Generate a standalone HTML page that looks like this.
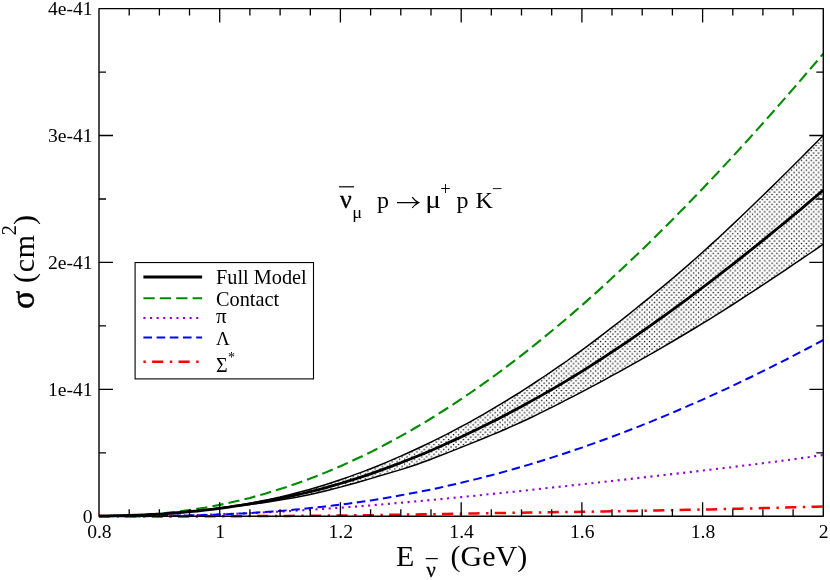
<!DOCTYPE html>
<html><head><meta charset="utf-8"><title>chart</title>
<style>html,body{margin:0;padding:0;background:#fff}svg{display:block}text{font-family:"Liberation Serif",serif;fill:#000;filter:grayscale(1)}</style>
</head><body>
<svg width="830" height="580" viewBox="0 0 830 580">
<defs><pattern id="dots" x="-0.75" y="0" width="4.9" height="4.9" patternUnits="userSpaceOnUse"><rect x="0.4" y="0.4" width="1.3" height="1.3" fill="#000"/><rect x="2.85" y="2.85" width="1.3" height="1.3" fill="#000"/></pattern></defs>
<rect width="830" height="580" fill="#fff"/>
<path d="M99.0,516.3 L106.5,516.3 L114.1,516.2 L121.6,516.0 L129.2,515.7 L136.7,515.3 L144.3,514.9 L151.8,514.3 L159.4,513.6 L166.9,512.9 L174.4,512.1 L182.0,511.1 L189.5,510.1 L197.1,508.9 L204.6,507.7 L212.2,506.3 L219.7,504.9 L227.3,503.3 L234.8,501.6 L242.4,499.8 L249.9,497.9 L257.4,495.8 L265.0,493.7 L272.5,491.4 L280.1,489.0 L287.6,486.6 L295.2,484.0 L302.7,481.3 L310.3,478.5 L317.8,475.6 L325.3,472.6 L332.9,469.4 L340.4,466.2 L348.0,462.8 L355.5,459.3 L363.1,455.8 L370.6,452.1 L378.2,448.3 L385.7,444.3 L393.2,440.3 L400.8,436.2 L408.3,431.9 L415.9,427.5 L423.4,423.1 L431.0,418.5 L438.5,413.8 L446.1,409.0 L453.6,404.1 L461.1,399.1 L468.7,394.0 L476.2,388.8 L483.8,383.4 L491.3,378.0 L498.9,372.5 L506.4,366.9 L514.0,361.1 L521.5,355.3 L529.1,349.4 L536.6,343.4 L544.1,337.3 L551.7,331.0 L559.2,324.7 L566.8,318.4 L574.3,311.9 L581.9,305.3 L589.4,298.6 L597.0,291.9 L604.5,285.0 L612.0,278.1 L619.6,271.1 L627.1,264.0 L634.7,256.8 L642.2,249.6 L649.8,242.2 L657.3,234.8 L664.9,227.3 L672.4,219.7 L679.9,212.1 L687.5,204.3 L695.0,196.5 L702.6,188.7 L710.1,180.7 L717.7,172.7 L725.2,164.6 L732.8,156.5 L740.3,148.2 L747.9,140.0 L755.4,131.6 L762.9,123.2 L770.5,114.7 L778.0,106.1 L785.6,97.5 L793.1,88.9 L800.7,80.1 L808.2,71.3 L815.8,62.5 L823.3,53.6" fill="none" stroke="#008b00" stroke-width="2.1" stroke-dasharray="11.3 5.1" stroke-dashoffset="0.8"/>
<path d="M99.0,516.3 L106.5,516.3 L114.1,516.3 L121.6,516.2 L129.2,516.2 L136.7,516.1 L144.3,516.1 L151.8,516.0 L159.4,515.9 L166.9,515.7 L174.4,515.6 L182.0,515.4 L189.5,515.2 L197.1,515.0 L204.6,514.8 L212.2,514.6 L219.7,514.3 L227.3,514.0 L234.8,513.8 L242.4,513.4 L249.9,513.1 L257.4,512.8 L265.0,512.4 L272.5,512.0 L280.1,511.6 L287.6,511.2 L295.2,510.7 L302.7,510.3 L310.3,509.8 L317.8,509.3 L325.3,508.8 L332.9,508.2 L340.4,507.7 L348.0,507.1 L355.5,506.6 L363.1,506.0 L370.6,505.4 L378.2,504.7 L385.7,504.1 L393.2,503.4 L400.8,502.8 L408.3,502.1 L415.9,501.4 L423.4,500.7 L431.0,500.0 L438.5,499.3 L446.1,498.6 L453.6,497.8 L461.1,497.1 L468.7,496.3 L476.2,495.6 L483.8,494.8 L491.3,494.0 L498.9,493.3 L506.4,492.5 L514.0,491.7 L521.5,490.9 L529.1,490.1 L536.6,489.3 L544.1,488.4 L551.7,487.6 L559.2,486.8 L566.8,486.0 L574.3,485.1 L581.9,484.3 L589.4,483.5 L597.0,482.6 L604.5,481.8 L612.0,481.0 L619.6,480.1 L627.1,479.3 L634.7,478.4 L642.2,477.6 L649.8,476.7 L657.3,475.8 L664.9,475.0 L672.4,474.1 L679.9,473.2 L687.5,472.4 L695.0,471.5 L702.6,470.6 L710.1,469.7 L717.7,468.8 L725.2,467.9 L732.8,467.0 L740.3,466.0 L747.9,465.1 L755.4,464.2 L762.9,463.2 L770.5,462.3 L778.0,461.3 L785.6,460.3 L793.1,459.3 L800.7,458.2 L808.2,457.2 L815.8,456.1 L823.3,455.0" fill="none" stroke="#9400d3" stroke-width="2.1" stroke-dasharray="2.1 4.5" stroke-dashoffset="1.2"/>
<path d="M99.0,516.3 L106.5,516.3 L114.1,516.3 L121.6,516.3 L129.2,516.3 L136.7,516.2 L144.3,516.2 L151.8,516.1 L159.4,516.0 L166.9,515.9 L174.4,515.8 L182.0,515.6 L189.5,515.5 L197.1,515.3 L204.6,515.0 L212.2,514.8 L219.7,514.5 L227.3,514.2 L234.8,513.8 L242.4,513.4 L249.9,513.0 L257.4,512.5 L265.0,512.0 L272.5,511.5 L280.1,510.9 L287.6,510.3 L295.2,509.6 L302.7,508.9 L310.3,508.1 L317.8,507.3 L325.3,506.5 L332.9,505.6 L340.4,504.7 L348.0,503.7 L355.5,502.6 L363.1,501.5 L370.6,500.4 L378.2,499.2 L385.7,498.0 L393.2,496.7 L400.8,495.3 L408.3,493.9 L415.9,492.5 L423.4,491.0 L431.0,489.5 L438.5,487.9 L446.1,486.2 L453.6,484.5 L461.1,482.8 L468.7,480.9 L476.2,479.1 L483.8,477.2 L491.3,475.2 L498.9,473.2 L506.4,471.1 L514.0,469.0 L521.5,466.8 L529.1,464.6 L536.6,462.3 L544.1,460.0 L551.7,457.6 L559.2,455.2 L566.8,452.7 L574.3,450.1 L581.9,447.6 L589.4,444.9 L597.0,442.2 L604.5,439.5 L612.0,436.7 L619.6,433.9 L627.1,431.0 L634.7,428.1 L642.2,425.1 L649.8,422.1 L657.3,419.0 L664.9,415.9 L672.4,412.7 L679.9,409.5 L687.5,406.2 L695.0,402.9 L702.6,399.6 L710.1,396.2 L717.7,392.7 L725.2,389.3 L732.8,385.7 L740.3,382.1 L747.9,378.5 L755.4,374.9 L762.9,371.2 L770.5,367.4 L778.0,363.6 L785.6,359.8 L793.1,355.9 L800.7,352.0 L808.2,348.0 L815.8,344.0 L823.3,340.0" fill="none" stroke="#0000ff" stroke-width="2.0" stroke-dasharray="8.6 4.6" stroke-dashoffset="5.6"/>
<path d="M99.0,516.5 L106.5,516.5 L114.1,516.5 L121.6,516.5 L129.2,516.5 L136.7,516.5 L144.3,516.5 L151.8,516.5 L159.4,516.5 L166.9,516.5 L174.4,516.4 L182.0,516.4 L189.5,516.4 L197.1,516.4 L204.6,516.3 L212.2,516.3 L219.7,516.3 L227.3,516.2 L234.8,516.2 L242.4,516.2 L249.9,516.1 L257.4,516.1 L265.0,516.0 L272.5,516.0 L280.1,515.9 L287.6,515.9 L295.2,515.8 L302.7,515.8 L310.3,515.7 L317.8,515.7 L325.3,515.6 L332.9,515.5 L340.4,515.5 L348.0,515.4 L355.5,515.3 L363.1,515.2 L370.6,515.2 L378.2,515.1 L385.7,514.9 L393.2,514.8 L400.8,514.7 L408.3,514.6 L415.9,514.5 L423.4,514.3 L431.0,514.2 L438.5,514.1 L446.1,513.9 L453.6,513.8 L461.1,513.7 L468.7,513.5 L476.2,513.4 L483.8,513.3 L491.3,513.2 L498.9,513.0 L506.4,512.9 L514.0,512.8 L521.5,512.7 L529.1,512.6 L536.6,512.5 L544.1,512.4 L551.7,512.3 L559.2,512.1 L566.8,512.0 L574.3,511.9 L581.9,511.8 L589.4,511.7 L597.0,511.5 L604.5,511.4 L612.0,511.3 L619.6,511.2 L627.1,511.0 L634.7,510.9 L642.2,510.7 L649.8,510.6 L657.3,510.5 L664.9,510.3 L672.4,510.2 L679.9,510.0 L687.5,509.8 L695.0,509.7 L702.6,509.5 L710.1,509.4 L717.7,509.2 L725.2,509.0 L732.8,508.8 L740.3,508.7 L747.9,508.5 L755.4,508.3 L762.9,508.1 L770.5,507.9 L778.0,507.7 L785.6,507.5 L793.1,507.3 L800.7,507.1 L808.2,506.9 L815.8,506.7 L823.3,506.5" fill="none" stroke="#ff0000" stroke-width="2.5" stroke-dasharray="2.4 6.3 11.2 6.5" stroke-dashoffset="8.9"/>
<path d="M99.0,515.8 L106.5,515.8 L114.1,515.7 L121.6,515.6 L129.2,515.4 L136.7,515.1 L144.3,514.8 L151.8,514.5 L159.4,514.0 L166.9,513.5 L174.4,512.9 L182.0,512.3 L189.5,511.6 L197.1,510.8 L204.6,509.9 L212.2,509.0 L219.7,508.0 L227.3,506.9 L234.8,505.7 L242.4,504.5 L249.9,503.2 L257.4,501.8 L265.0,500.3 L272.5,498.7 L280.1,497.1 L287.6,495.2 L295.2,493.3 L302.7,491.3 L310.3,489.2 L317.8,487.0 L325.3,484.7 L332.9,482.3 L340.4,479.7 L348.0,477.1 L355.5,474.4 L363.1,471.6 L370.6,468.7 L378.2,465.7 L385.7,462.6 L393.2,459.4 L400.8,456.1 L408.3,452.8 L415.9,449.3 L423.4,445.7 L431.0,442.1 L438.5,438.4 L446.1,434.6 L453.6,430.7 L461.1,426.7 L468.7,422.6 L476.2,418.4 L483.8,414.1 L491.3,409.7 L498.9,405.2 L506.4,400.6 L514.0,396.0 L521.5,391.3 L529.1,386.4 L536.6,381.5 L544.1,376.5 L551.7,371.4 L559.2,366.2 L566.8,361.0 L574.3,355.6 L581.9,350.1 L589.4,344.6 L597.0,338.9 L604.5,333.2 L612.0,327.4 L619.6,321.5 L627.1,315.6 L634.7,309.5 L642.2,303.4 L649.8,297.3 L657.3,291.1 L664.9,284.8 L672.4,278.5 L679.9,272.1 L687.5,265.6 L695.0,259.0 L702.6,252.3 L710.1,245.4 L717.7,238.5 L725.2,231.5 L732.8,224.4 L740.3,217.2 L747.9,210.0 L755.4,202.8 L762.9,195.5 L770.5,188.1 L778.0,180.7 L785.6,173.3 L793.1,165.7 L800.7,158.2 L808.2,150.6 L815.8,143.0 L823.3,135.3 L823.3,244.2 L815.8,249.4 L808.2,254.5 L800.7,259.6 L793.1,264.7 L785.6,269.8 L778.0,274.9 L770.5,279.9 L762.9,284.9 L755.4,289.8 L747.9,294.7 L740.3,299.6 L732.8,304.5 L725.2,309.3 L717.7,314.1 L710.1,318.8 L702.6,323.4 L695.0,328.0 L687.5,332.5 L679.9,337.0 L672.4,341.5 L664.9,345.9 L657.3,350.3 L649.8,354.6 L642.2,358.9 L634.7,363.2 L627.1,367.4 L619.6,371.6 L612.0,375.7 L604.5,379.8 L597.0,383.9 L589.4,387.9 L581.9,391.9 L574.3,395.8 L566.8,399.7 L559.2,403.6 L551.7,407.4 L544.1,411.2 L536.6,414.9 L529.1,418.5 L521.5,422.0 L514.0,425.4 L506.4,428.7 L498.9,432.0 L491.3,435.1 L483.8,438.3 L476.2,441.4 L468.7,444.4 L461.1,447.4 L453.6,450.4 L446.1,453.4 L438.5,456.3 L431.0,459.2 L423.4,462.0 L415.9,464.7 L408.3,467.2 L400.8,469.6 L393.2,471.9 L385.7,474.1 L378.2,476.3 L370.6,478.6 L363.1,480.8 L355.5,483.0 L348.0,485.1 L340.4,487.1 L332.9,489.1 L325.3,491.0 L317.8,492.8 L310.3,494.5 L302.7,496.0 L295.2,497.4 L287.6,498.7 L280.1,500.0 L272.5,501.2 L265.0,502.4 L257.4,503.4 L249.9,504.4 L242.4,505.3 L234.8,506.2 L227.3,507.1 L219.7,508.1 L212.2,509.0 L204.6,509.9 L197.1,510.7 L189.5,511.5 L182.0,512.2 L174.4,512.8 L166.9,513.4 L159.4,513.9 L151.8,514.3 L144.3,514.7 L136.7,515.1 L129.2,515.3 L121.6,515.5 L114.1,515.7 L106.5,515.8 L99.0,515.8 Z" fill="url(#dots)" stroke="none"/>
<path d="M99.0,515.8 L106.5,515.8 L114.1,515.7 L121.6,515.6 L129.2,515.4 L136.7,515.1 L144.3,514.8 L151.8,514.5 L159.4,514.0 L166.9,513.5 L174.4,512.9 L182.0,512.3 L189.5,511.6 L197.1,510.8 L204.6,509.9 L212.2,509.0 L219.7,508.0 L227.3,506.9 L234.8,505.7 L242.4,504.5 L249.9,503.2 L257.4,501.8 L265.0,500.3 L272.5,498.7 L280.1,497.1 L287.6,495.2 L295.2,493.3 L302.7,491.3 L310.3,489.2 L317.8,487.0 L325.3,484.7 L332.9,482.3 L340.4,479.7 L348.0,477.1 L355.5,474.4 L363.1,471.6 L370.6,468.7 L378.2,465.7 L385.7,462.6 L393.2,459.4 L400.8,456.1 L408.3,452.8 L415.9,449.3 L423.4,445.7 L431.0,442.1 L438.5,438.4 L446.1,434.6 L453.6,430.7 L461.1,426.7 L468.7,422.6 L476.2,418.4 L483.8,414.1 L491.3,409.7 L498.9,405.2 L506.4,400.6 L514.0,396.0 L521.5,391.3 L529.1,386.4 L536.6,381.5 L544.1,376.5 L551.7,371.4 L559.2,366.2 L566.8,361.0 L574.3,355.6 L581.9,350.1 L589.4,344.6 L597.0,338.9 L604.5,333.2 L612.0,327.4 L619.6,321.5 L627.1,315.6 L634.7,309.5 L642.2,303.4 L649.8,297.3 L657.3,291.1 L664.9,284.8 L672.4,278.5 L679.9,272.1 L687.5,265.6 L695.0,259.0 L702.6,252.3 L710.1,245.4 L717.7,238.5 L725.2,231.5 L732.8,224.4 L740.3,217.2 L747.9,210.0 L755.4,202.8 L762.9,195.5 L770.5,188.1 L778.0,180.7 L785.6,173.3 L793.1,165.7 L800.7,158.2 L808.2,150.6 L815.8,143.0 L823.3,135.3" fill="none" stroke="#000" stroke-width="1.5"/>
<path d="M99.0,515.8 L106.5,515.8 L114.1,515.7 L121.6,515.5 L129.2,515.3 L136.7,515.1 L144.3,514.7 L151.8,514.3 L159.4,513.9 L166.9,513.4 L174.4,512.8 L182.0,512.2 L189.5,511.5 L197.1,510.7 L204.6,509.9 L212.2,509.0 L219.7,508.1 L227.3,507.1 L234.8,506.2 L242.4,505.3 L249.9,504.4 L257.4,503.4 L265.0,502.4 L272.5,501.2 L280.1,500.0 L287.6,498.7 L295.2,497.4 L302.7,496.0 L310.3,494.5 L317.8,492.8 L325.3,491.0 L332.9,489.1 L340.4,487.1 L348.0,485.1 L355.5,483.0 L363.1,480.8 L370.6,478.6 L378.2,476.3 L385.7,474.1 L393.2,471.9 L400.8,469.6 L408.3,467.2 L415.9,464.7 L423.4,462.0 L431.0,459.2 L438.5,456.3 L446.1,453.4 L453.6,450.4 L461.1,447.4 L468.7,444.4 L476.2,441.4 L483.8,438.3 L491.3,435.1 L498.9,432.0 L506.4,428.7 L514.0,425.4 L521.5,422.0 L529.1,418.5 L536.6,414.9 L544.1,411.2 L551.7,407.4 L559.2,403.6 L566.8,399.7 L574.3,395.8 L581.9,391.9 L589.4,387.9 L597.0,383.9 L604.5,379.8 L612.0,375.7 L619.6,371.6 L627.1,367.4 L634.7,363.2 L642.2,358.9 L649.8,354.6 L657.3,350.3 L664.9,345.9 L672.4,341.5 L679.9,337.0 L687.5,332.5 L695.0,328.0 L702.6,323.4 L710.1,318.8 L717.7,314.1 L725.2,309.3 L732.8,304.5 L740.3,299.6 L747.9,294.7 L755.4,289.8 L762.9,284.9 L770.5,279.9 L778.0,274.9 L785.6,269.8 L793.1,264.7 L800.7,259.6 L808.2,254.5 L815.8,249.4 L823.3,244.2" fill="none" stroke="#000" stroke-width="1.5"/>
<path d="M99.0,515.8 L106.5,515.8 L114.1,515.7 L121.6,515.6 L129.2,515.4 L136.7,515.1 L144.3,514.8 L151.8,514.5 L159.4,514.1 L166.9,513.6 L174.4,513.0 L182.0,512.4 L189.5,511.7 L197.1,511.0 L204.6,510.1 L212.2,509.3 L219.7,508.3 L227.3,507.3 L234.8,506.2 L242.4,505.1 L249.9,503.9 L257.4,502.7 L265.0,501.3 L272.5,499.9 L280.1,498.4 L287.6,496.9 L295.2,495.2 L302.7,493.5 L310.3,491.7 L317.8,489.8 L325.3,487.8 L332.9,485.7 L340.4,483.5 L348.0,481.2 L355.5,478.8 L363.1,476.3 L370.6,473.8 L378.2,471.1 L385.7,468.4 L393.2,465.6 L400.8,462.8 L408.3,459.8 L415.9,456.8 L423.4,453.7 L431.0,450.5 L438.5,447.2 L446.1,443.8 L453.6,440.4 L461.1,436.9 L468.7,433.3 L476.2,429.7 L483.8,426.0 L491.3,422.2 L498.9,418.4 L506.4,414.5 L514.0,410.5 L521.5,406.5 L529.1,402.3 L536.6,398.1 L544.1,393.9 L551.7,389.5 L559.2,385.1 L566.8,380.6 L574.3,376.0 L581.9,371.4 L589.4,366.6 L597.0,361.8 L604.5,356.9 L612.0,351.9 L619.6,346.9 L627.1,341.8 L634.7,336.6 L642.2,331.4 L649.8,326.1 L657.3,320.7 L664.9,315.3 L672.4,309.9 L679.9,304.4 L687.5,298.8 L695.0,293.2 L702.6,287.5 L710.1,281.8 L717.7,276.0 L725.2,270.2 L732.8,264.3 L740.3,258.4 L747.9,252.4 L755.4,246.4 L762.9,240.3 L770.5,234.2 L778.0,228.0 L785.6,221.8 L793.1,215.5 L800.7,209.3 L808.2,202.9 L815.8,196.5 L823.3,190.1" fill="none" stroke="#000" stroke-width="2.8"/>
<path d="M129.2,516.3 v-7 M129.2,8.6 v7 M159.4,516.3 v-7 M159.4,8.6 v7 M189.5,516.3 v-7 M189.5,8.6 v7 M219.7,516.3 v-14 M219.7,8.6 v14 M249.9,516.3 v-7 M249.9,8.6 v7 M280.1,516.3 v-7 M280.1,8.6 v7 M310.3,516.3 v-7 M310.3,8.6 v7 M340.4,516.3 v-14 M340.4,8.6 v14 M370.6,516.3 v-7 M370.6,8.6 v7 M400.8,516.3 v-7 M400.8,8.6 v7 M431.0,516.3 v-7 M431.0,8.6 v7 M461.2,516.3 v-14 M461.2,8.6 v14 M491.3,516.3 v-7 M491.3,8.6 v7 M521.5,516.3 v-7 M521.5,8.6 v7 M551.7,516.3 v-7 M551.7,8.6 v7 M581.9,516.3 v-14 M581.9,8.6 v14 M612.0,516.3 v-7 M612.0,8.6 v7 M642.2,516.3 v-7 M642.2,8.6 v7 M672.4,516.3 v-7 M672.4,8.6 v7 M702.6,516.3 v-14 M702.6,8.6 v14 M732.8,516.3 v-7 M732.8,8.6 v7 M762.9,516.3 v-7 M762.9,8.6 v7 M793.1,516.3 v-7 M793.1,8.6 v7 M99.0,452.8 h7 M823.3,452.8 h-7 M99.0,389.4 h14 M823.3,389.4 h-14 M99.0,325.9 h7 M823.3,325.9 h-7 M99.0,262.4 h14 M823.3,262.4 h-14 M99.0,199.0 h7 M823.3,199.0 h-7 M99.0,135.5 h14 M823.3,135.5 h-14 M99.0,72.1 h7 M823.3,72.1 h-7" fill="none" stroke="#000" stroke-width="1.3"/>
<rect x="99.0" y="8.6" width="724.3" height="507.7" fill="none" stroke="#000" stroke-width="1.4" stroke-linejoin="round"/>
<text x="99.4" y="537.7" font-size="19.6" text-anchor="middle">0.8</text>
<text x="220.1" y="537.7" font-size="19.6" text-anchor="middle">1</text>
<text x="340.8" y="537.7" font-size="19.6" text-anchor="middle">1.2</text>
<text x="461.6" y="537.7" font-size="19.6" text-anchor="middle">1.4</text>
<text x="582.3" y="537.7" font-size="19.6" text-anchor="middle">1.6</text>
<text x="703.0" y="537.7" font-size="19.6" text-anchor="middle">1.8</text>
<text x="823.7" y="537.7" font-size="19.6" text-anchor="middle">2</text>
<text x="92.6" y="523.1" font-size="19.6" text-anchor="end">0</text>
<text x="92.6" y="396.2" font-size="19.6" text-anchor="end">1e-41</text>
<text x="92.6" y="269.2" font-size="19.6" text-anchor="end">2e-41</text>
<text x="92.6" y="142.3" font-size="19.6" text-anchor="end">3e-41</text>
<text x="92.6" y="15.4" font-size="19.6" text-anchor="end">4e-41</text>
<text x="396" y="565.9" font-size="30">E</text>
<text x="426.6" y="576.9" font-size="20.5" stroke="#000" stroke-width="0.3">ν</text>
<path d="M425.7,558.6 H437.8" stroke="#000" stroke-width="1.2"/>
<text x="450.5" y="565.9" font-size="30">(GeV)</text>
<text transform="translate(34.3,309.1) rotate(-90)" font-size="34" stroke="#000" stroke-width="0.5">σ</text>
<text transform="translate(34,283.0) rotate(-90)" font-size="30" letter-spacing="0.75">(cm</text>
<text transform="translate(15.8,235.5) rotate(-90)" font-size="21">2</text>
<text transform="translate(34,225.1) rotate(-90)" font-size="30">)</text>
<text x="340.0" y="208.1" font-size="26" stroke="#000" stroke-width="0.35">ν</text>
<path d="M339,186.8 H354.1" stroke="#000" stroke-width="1.2"/>
<text transform="translate(352.2,217.8) scale(1.08,1)" font-size="17">μ</text>
<text x="377" y="208.1" font-size="24">p</text>
<path d="M397,202.6 H418.4 M412.2,197.2 Q414.5,200.6 418.6,202.6 Q414.5,204.6 412.2,208" fill="none" stroke="#000" stroke-width="1.3"/>
<text transform="translate(425.3,208.1) scale(1.15,1)" font-size="25.4">μ</text>
<text x="440.2" y="195.1" font-size="18.5">+</text>
<text x="456.6" y="208.1" font-size="24">p</text>
<text x="475.6" y="208.1" font-size="24">K</text>
<text x="492.1" y="195.3" font-size="18.5">−</text>
<rect x="135.1" y="262.55" width="178.4" height="116.35" fill="#fff" stroke="#000" stroke-width="1.1"/>
<path d="M143.4,277 H202.1" stroke="#000" stroke-width="2.8"/>
<path d="M143.4,298.3 H202.1" stroke="#008b00" stroke-width="2.1" stroke-dasharray="11.3 5.1" stroke-dashoffset="0"/>
<path d="M143.4,318 H202.1" stroke="#9400d3" stroke-width="2.1" stroke-dasharray="2.1 4.5" stroke-dashoffset="0"/>
<path d="M143.4,337.4 H202.1" stroke="#0000ff" stroke-width="2.0" stroke-dasharray="8.6 4.6" stroke-dashoffset="0"/>
<path d="M143.4,361.7 H202.1" stroke="#ff0000" stroke-width="2.5" stroke-dasharray="2.4 6.3 11.2 6.5" stroke-dashoffset="0"/>
<text x="216" y="284.1" font-size="20.3">Full Model</text>
<text x="216" y="305.5" font-size="20.3">Contact</text>
<text x="216" y="323.3" font-size="21">π</text>
<text x="216" y="344.6" font-size="19">Λ</text>
<text x="216" y="371.8" font-size="20">Σ</text>
<text x="227.9" y="361.8" font-size="14">*</text>
</svg></body></html>
